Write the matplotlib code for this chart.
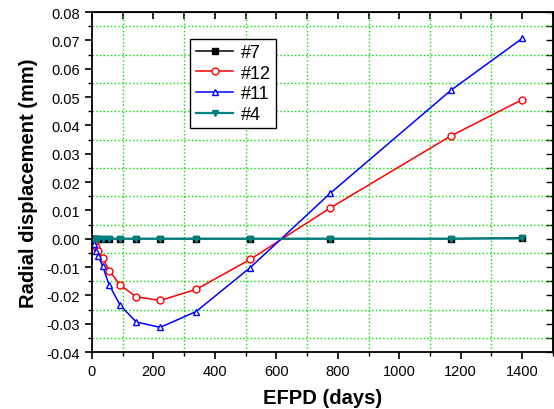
import numpy as np
import matplotlib.pyplot as plt
from matplotlib.ticker import MultipleLocator, FormatStrFormatter

plt.rcParams['font.family'] = ['Liberation Sans', 'DejaVu Sans']
plt.rcParams['axes.unicode_minus'] = False

# EFPD (days)
days = [0, 7, 14, 21, 35, 56, 92, 144, 222, 339, 515, 776, 1168, 1400]

# radial displacement (mm) per rod
d7 = [0, 0, 0, 0, 0, 0, 0, 0, 0, 0, 0, 0, 0, 0.0003]
d12 = [0, -0.0012, -0.0029, -0.0043, -0.0067, -0.0113, -0.0164, -0.0205,
       -0.0218, -0.0179, -0.0073, 0.0109, 0.0363, 0.0491]
d11 = [0, -0.002, -0.0043, -0.0062, -0.0098, -0.0163, -0.0235, -0.0294,
       -0.0313, -0.0257, -0.0102, 0.0161, 0.0524, 0.0707]
d4 = [0, 0, 0, 0, 0, 0, 0, 0, 0, 0, 0, 0, 0, 0.0001]

fig = plt.figure(figsize=(5.54, 4.10), dpi=100)
ax = fig.add_axes([0.166, 0.139, 0.832, 0.829])

lw = 1.1
ax.plot(days, d7, color='black', marker='s', ms=4, lw=lw, label='#7')
ax.plot(days, d12, color='red', marker='o', ms=5, mfc='white', lw=lw, label='#12')
ax.plot(days, d11, color='blue', marker='^', ms=5, mfc='white', lw=lw, label='#11')
ax.plot(days, d4, color='#008080', marker='v', ms=4.5, lw=lw + 0.5, label='#4')

ax.set_xlim(0, 1500)
ax.set_ylim(-0.04, 0.08)
ax.xaxis.set_major_locator(MultipleLocator(200))
ax.xaxis.set_minor_locator(MultipleLocator(100))
ax.yaxis.set_major_locator(MultipleLocator(0.01))
ax.yaxis.set_minor_locator(MultipleLocator(0.005))
ax.yaxis.set_major_formatter(FormatStrFormatter('%.2f'))

# green dotted grid only on the minor ticks (origin style)
ax.grid(which='minor', color='#00e000', linestyle=':', linewidth=1.0)
ax.set_axisbelow(True)

ax.tick_params(which='major', direction='out', length=5, width=1.2, labelsize=10.5)
ax.tick_params(which='minor', direction='out', length=3, width=1.0)
for s in ax.spines.values():
    s.set_linewidth(1.3)

# mirrored inward ticks on top and right
top = ax.secondary_xaxis('top')
top.xaxis.set_major_locator(MultipleLocator(100))
top.tick_params(direction='in', length=5, width=1.2, labeltop=False)
right = ax.secondary_yaxis('right')
right.yaxis.set_major_locator(MultipleLocator(0.005))
right.tick_params(direction='in', length=5, width=1.0, labelright=False)

ax.set_xlabel('EFPD (days)', fontsize=14.5, fontweight='bold', labelpad=7)
ax.set_ylabel('Radial displacement (mm)', fontsize=14.5, fontweight='bold', labelpad=6)

leg = ax.legend(loc='upper left', bbox_to_anchor=(0.213, 0.922), fontsize=13,
                handlelength=2.1, numpoints=1, fancybox=False, framealpha=1,
                edgecolor='black', borderpad=0.3, labelspacing=0.2,
                handletextpad=0.4, borderaxespad=0)
leg.get_frame().set_linewidth(1.0)

fig.savefig('out.png', dpi=100)
